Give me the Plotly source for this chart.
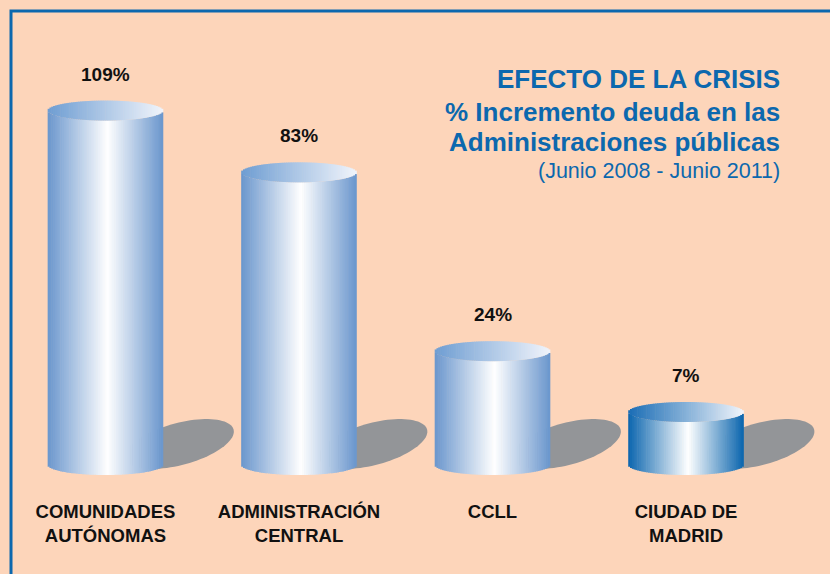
import numpy as np
import plotly.graph_objects as go

# ---------------- data ----------------
categories = ["COMUNIDADES<br>AUTÓNOMAS", "ADMINISTRACIÓN<br>CENTRAL", "CCLL", "CIUDAD DE<br>MADRID"]
values = [109, 83, 24, 7]                 # % increase (labels)
drawn_heights = [109, 90, 35, 16.3]       # cylinder heights as drawn in the infographic (not to scale)
value_labels = [f"{v}%" for v in values]
title_lines = ["EFECTO DE LA CRISIS", "% Incremento deuda en las", "Administraciones públicas"]
subtitle = "(Junio 2008 - Junio 2011)"

# ---------------- styles ----------------
W, H = 830, 574
MB = 84                      # bottom margin (tick labels)
PH = H - MB                  # plot height in px
BG = "#fdd5ba"
BLUE = "#0c68ae"
SHADOW = "#939598"
XR = [-0.545, 3.744]
YR = [-7.69, 143.0]
px_x = W / (XR[1] - XR[0])
px_y = PH / (YR[1] - YR[0])
half_w = 57.5 / px_x         # cylinder half width in x units
ell = 10.0 / px_y            # ellipse half height in y units
N = 64

light_edge = np.array([106, 150, 205])
light_top_l = np.array([110, 157, 210])
dark_edge = np.array([11, 101, 174])
dark_top_l = np.array([26, 109, 181])
white = np.array([255, 255, 255])
top_r = np.array([240, 244, 251])


def rgb(c):
    c = np.clip(np.round(c), 0, 255).astype(int)
    return f"rgb({c[0]},{c[1]},{c[2]})"


fig = go.Figure()
shapes = []

for i, h in enumerate(drawn_heights):
    dark = values[i] < 10
    edge = dark_edge if dark else light_edge
    tl = dark_top_l if dark else light_top_l
    u = -1 + (np.arange(N) + 0.5) * 2 / N
    s = np.sqrt(1 - u ** 2)
    xs = i + u * half_w
    pos = (u + 1) / 2
    peak = 0.52
    t = np.where(pos < peak, pos / peak, (1 - pos) / (1 - peak))
    body_cols = [rgb(edge + (white - edge) * tt) for tt in t]
    top_cols = [rgb(tl + (top_r - tl) * p) for p in pos]
    bw = 2 * half_w / N * 1.35
    # body
    fig.add_trace(go.Bar(x=xs, y=np.full(N, h), base=-ell * s, width=bw,
                         marker=dict(color=body_cols, line=dict(width=0)),
                         hoverinfo="skip", showlegend=False))
    # top ellipse
    fig.add_trace(go.Bar(x=xs, y=2 * ell * s, base=h - ell * s, width=bw,
                         marker=dict(color=top_cols, line=dict(width=0)),
                         hoverinfo="skip", showlegend=False))
    # shadow (rotated ellipse), offsets in px relative to cylinder base centre
    th = np.deg2rad(15)
    a, b = 56, 21
    cx, cy = 74.0, -21.0
    tt = np.linspace(0, 2 * np.pi, 90)
    dxp = cx + a * np.cos(tt) * np.cos(th) + b * np.sin(tt) * np.sin(th)
    dyp = cy - a * np.cos(tt) * np.sin(th) + b * np.sin(tt) * np.cos(th)  # screen px (down +)
    xd = i + dxp / px_x
    yd = -dyp / px_y
    path = "M " + " L ".join(f"{x:.4f},{y:.4f}" for x, y in zip(xd, yd)) + " Z"
    shapes.append(dict(type="path", path=path, xref="x", yref="y", fillcolor=SHADOW,
                       line=dict(width=0), layer="below"))

# value labels
annotations = []
for i, h in enumerate(drawn_heights):
    annotations.append(dict(x=i, y=h, xref="x", yref="y", text=value_labels[i], showarrow=False,
                            yanchor="bottom", yshift=24,
                            font=dict(family="Liberation Sans, Arial", size=19, color="#111111", weight="bold")))


def py(p):
    return 1 - p / PH


title_y = [79, 112.5, 141.5]
for line, yy in zip(title_lines, title_y):
    annotations.append(dict(x=782 / W, y=py(yy), xref="paper", yref="paper", text=line, showarrow=False,
                            xanchor="right", yanchor="middle",
                            font=dict(family="Liberation Sans, Arial", size=26, color=BLUE, weight="bold")))
annotations.append(dict(x=782 / W, y=py(170.5), xref="paper", yref="paper", text=subtitle, showarrow=False,
                        xanchor="right", yanchor="middle",
                        font=dict(family="Liberation Sans, Arial", size=21.5, color=BLUE)))

# border (left and top)
bx = 11 / W
by = py(11)
shapes.append(dict(type="path", xref="paper", yref="paper",
                   path=f"M {bx},{py(H + 20)} L {bx},{by} L {1.02},{by}",
                   line=dict(color=BLUE, width=3)))

fig.update_layout(
    width=W, height=H,
    margin=dict(l=0, r=0, t=0, b=MB, pad=0),
    paper_bgcolor=BG, plot_bgcolor=BG,
    barmode="overlay",
    shapes=shapes, annotations=annotations,
    xaxis=dict(range=XR, tickvals=[0, 1, 2, 3], ticktext=categories, showgrid=False, zeroline=False,
               showline=False, ticks="", automargin=False, fixedrange=True, ticklabelstandoff=8,
               tickfont=dict(family="Liberation Sans, Arial", size=18.5, color="#111111", weight="bold")),
    yaxis=dict(range=YR, visible=False, automargin=False, fixedrange=True),
    showlegend=False,
)

fig.write_html("out.html", config={"displayModeBar": False, "staticPlot": True},
               post_script="document.body.style.margin='0';document.body.style.background='" + BG + "';")
